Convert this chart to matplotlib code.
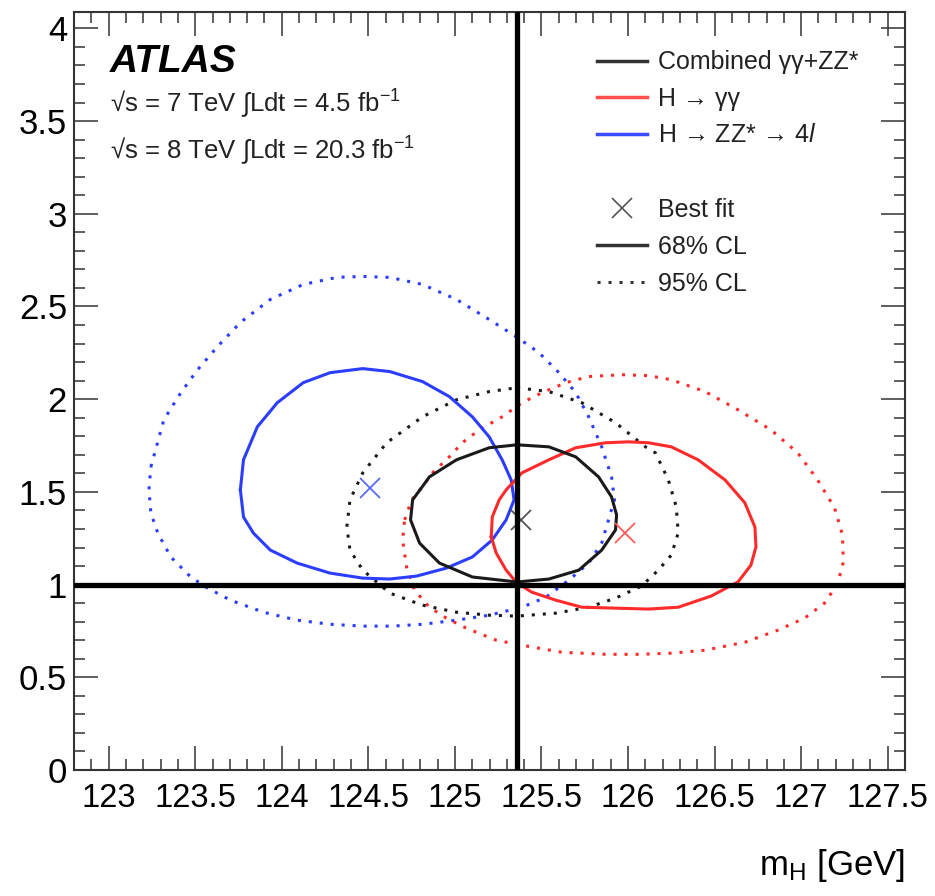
import numpy as np
import matplotlib
matplotlib.use('Agg')
import matplotlib.pyplot as plt
from matplotlib.lines import Line2D
from matplotlib.ticker import MultipleLocator, FormatStrFormatter

plt.rcParams['font.family'] = ['Liberation Sans', 'DejaVu Sans']
plt.rcParams['mathtext.fontset'] = 'custom'
plt.rcParams['mathtext.rm'] = 'Liberation Sans'
plt.rcParams['mathtext.it'] = 'Liberation Sans:italic'

# best fit values
mh_best = 125.36
comb_best = (125.38, 1.35)
gg_best = (125.98, 1.28)
zz_best = (124.51, 1.52)

# H -> ZZ* -> 4l contours
zz68_mh = [123.761, 123.779, 123.859, 123.974, 124.124, 124.279, 124.468, 124.624, 124.813, 124.968,
           125.101, 125.198, 125.273, 125.325, 125.342, 125.296, 125.216, 125.101, 124.951, 124.779,
           124.624, 124.468, 124.279, 124.089, 123.934, 123.836, 123.779]
zz68_mu = [1.511, 1.673, 1.851, 1.981, 2.089, 2.143, 2.165, 2.149, 2.095, 2.014,
           1.905, 1.797, 1.673, 1.565, 1.457, 1.349, 1.241, 1.149, 1.089, 1.046,
           1.030, 1.035, 1.062, 1.116, 1.186, 1.278, 1.365]
zz95_mh = [123.244, 123.319, 123.417, 123.514, 123.629, 123.761, 123.934, 124.124, 124.319, 124.468,
           124.624, 124.813, 125.009, 125.198, 125.353, 125.486, 125.601, 125.698, 125.773, 125.848,
           125.905, 125.922, 125.899, 125.848, 125.773, 125.658, 125.526, 125.388, 125.198, 125.009,
           124.813, 124.641, 124.468, 124.279, 124.089, 123.894, 123.704, 123.572, 123.474, 123.359,
           123.284, 123.244, 123.233]
zz95_mu = [1.635, 1.889, 2.035, 2.159, 2.284, 2.414, 2.538, 2.619, 2.657, 2.662,
           2.657, 2.619, 2.538, 2.430, 2.338, 2.251, 2.143, 2.035, 1.905, 1.743,
           1.581, 1.457, 1.386, 1.224, 1.116, 1.024, 0.932, 0.878, 0.835, 0.808,
           0.786, 0.776, 0.776, 0.786, 0.808, 0.851, 0.916, 0.981, 1.041, 1.149,
           1.278, 1.386, 1.511]

# H -> gamma gamma contours
gg68_mh = [125.210, 125.216, 125.256, 125.296, 125.388, 125.543, 125.698, 125.871, 126.003, 126.118,
           126.250, 126.405, 126.560, 126.675, 126.733, 126.739, 126.710, 126.635, 126.480, 126.290,
           126.118, 125.928, 125.733, 125.583, 125.445, 125.359, 125.296, 125.239]
gg68_mu = [1.257, 1.365, 1.457, 1.511, 1.603, 1.673, 1.738, 1.765, 1.770, 1.765,
           1.743, 1.673, 1.565, 1.441, 1.311, 1.203, 1.105, 1.014, 0.938, 0.878,
           0.868, 0.873, 0.878, 0.916, 0.959, 1.008, 1.078, 1.170]
gg95_mh = [124.710, 124.750, 124.813, 124.871, 124.968, 125.043, 125.141, 125.273, 125.388, 125.503,
           125.641, 125.773, 125.963, 126.118, 126.250, 126.445, 126.635, 126.825, 126.980, 127.095,
           127.193, 127.239, 127.244, 127.210, 127.135, 127.020, 126.865, 126.675, 126.445, 126.250,
           126.060, 125.871, 125.618, 125.388, 125.239, 125.066, 124.951, 124.853, 124.767, 124.721,
           124.698]
gg95_mu = [1.349, 1.457, 1.527, 1.603, 1.689, 1.765, 1.835, 1.905, 1.981, 2.035,
           2.089, 2.122, 2.132, 2.127, 2.105, 2.041, 1.943, 1.835, 1.711, 1.565,
           1.414, 1.268, 1.122, 1.003, 0.900, 0.819, 0.754, 0.689, 0.646, 0.630,
           0.624, 0.624, 0.635, 0.673, 0.700, 0.765, 0.819, 0.878, 0.970, 1.095,
           1.241]

# combined contours
comb68_mh = [125.359, 125.543, 125.698, 125.830, 125.905, 125.934, 125.928, 125.848, 125.716, 125.543,
             125.359, 125.101, 124.911, 124.796, 124.744, 124.756, 124.853, 125.009, 125.198]
comb68_mu = [1.754, 1.743, 1.689, 1.581, 1.473, 1.376, 1.295, 1.186, 1.078, 1.030,
             1.014, 1.041, 1.116, 1.224, 1.349, 1.457, 1.581, 1.673, 1.738]
comb95_mh = [125.359, 125.543, 125.733, 125.928, 126.101, 126.158, 126.233, 126.279, 126.290, 126.250,
             126.175, 126.078, 125.928, 125.773, 125.583, 125.359, 125.198, 125.009, 124.813, 124.624,
             124.468, 124.394, 124.376, 124.394, 124.468, 124.606, 124.813, 125.009, 125.198]
comb95_mu = [2.062, 2.041, 1.981, 1.873, 1.743, 1.711, 1.565, 1.419, 1.278, 1.159,
             1.078, 0.992, 0.927, 0.878, 0.846, 0.830, 0.835, 0.851, 0.889, 0.954,
             1.078, 1.186, 1.311, 1.457, 1.603, 1.765, 1.905, 1.997, 2.041]

blue = '#2b3dff'
red = '#ff2a2a'
black = '#1a1a1a'
dotted = (0, (1, 2.6))

fig = plt.figure(figsize=(9.35, 8.96), dpi=100)
ax = fig.add_axes([74 / 935, 126 / 896, 831 / 935, 758.3 / 896])


def closed(a):
    return np.append(a, a[0])


for mh, mu, c in [(zz95_mh, zz95_mu, blue), (gg95_mh, gg95_mu, red), (comb95_mh, comb95_mu, black)]:
    ax.plot(closed(mh), closed(mu), color=c, lw=2.2, ls=dotted)
for mh, mu, c in [(zz68_mh, zz68_mu, blue), (gg68_mh, gg68_mu, red), (comb68_mh, comb68_mu, black)]:
    ax.plot(closed(mh), closed(mu), color=c, lw=2.2, solid_joinstyle='round')

for (x, y), c in [(zz_best, '#5a6aff'), (gg_best, '#ff5a5a'), (comb_best, '#555555')]:
    ax.plot(x, y, marker='x', ms=15, mew=1.3, color=c, ls='none')

ax.axvline(mh_best, color='black', lw=3.8, zorder=5)
ax.axhline(1, color='black', lw=3.8, zorder=5)

ax.set_xlim(122.8, 127.6)
ax.set_ylim(0, 4.09)
ax.xaxis.set_major_locator(MultipleLocator(0.5))
ax.xaxis.set_minor_locator(MultipleLocator(0.1))
ax.yaxis.set_major_locator(MultipleLocator(0.5))
ax.yaxis.set_minor_locator(MultipleLocator(0.1))
ax.xaxis.set_major_formatter(FormatStrFormatter('%g'))
ax.yaxis.set_major_formatter(FormatStrFormatter('%g'))
ax.tick_params(which='both', direction='in', top=True, right=True, color='#333333', width=1.1)
ax.tick_params(which='major', length=17)
ax.tick_params(which='minor', length=8)
ax.tick_params(axis='x', labelsize=23.5, pad=9)
ax.tick_params(axis='y', labelsize=25, pad=5)
for s in ax.spines.values():
    s.set_linewidth(1.5)
    s.set_color('#333333')

ax.set_xlabel('m$_{\\rm H}$ [GeV]', fontsize=25, loc='right', labelpad=24)

ax.text(0.043, 0.934, 'ATLAS', transform=ax.transAxes, fontsize=28, fontweight='bold',
        fontstyle='italic', va='center', ha='left')
ax.text(0.043, 0.879, '√s = 7 TeV ∫Ldt = 4.5 fb$^{-1}$', transform=ax.transAxes,
        fontsize=18.5, va='center', ha='left', color='#222222')
ax.text(0.043, 0.817, '√s = 8 TeV ∫Ldt = 20.3 fb$^{-1}$', transform=ax.transAxes,
        fontsize=18.5, va='center', ha='left', color='#222222')

h1 = [Line2D([], [], color='#333333', lw=2.5),
      Line2D([], [], color='#ff4c4c', lw=2.5),
      Line2D([], [], color='#3a4cff', lw=2.5)]
l1 = ['Combined γγ+ZZ*', 'H → γγ', 'H → ZZ* → 4$\\mathit{l}$']
leg1 = ax.legend(h1, l1, loc='upper left', bbox_to_anchor=(0.629, 0.949), frameon=False,
                 fontsize=18, handlelength=2.0, handletextpad=0.45, labelspacing=0.5,
                 borderpad=0, borderaxespad=0, labelcolor='#222222')
ax.add_artist(leg1)

h2 = [Line2D([], [], color='#555555', marker='x', ms=14, mew=1.2, ls='none'),
      Line2D([], [], color='#333333', lw=2.5),
      Line2D([], [], color='#333333', lw=2.2, ls=dotted)]
l2 = ['Best fit', '68% CL', '95% CL']
ax.legend(h2, l2, loc='upper left', bbox_to_anchor=(0.629, 0.754), frameon=False,
          fontsize=18, handlelength=2.0, handletextpad=0.45, labelspacing=0.52,
          borderpad=0, borderaxespad=0, labelcolor='#222222')

fig.savefig('out.png', dpi=100)
